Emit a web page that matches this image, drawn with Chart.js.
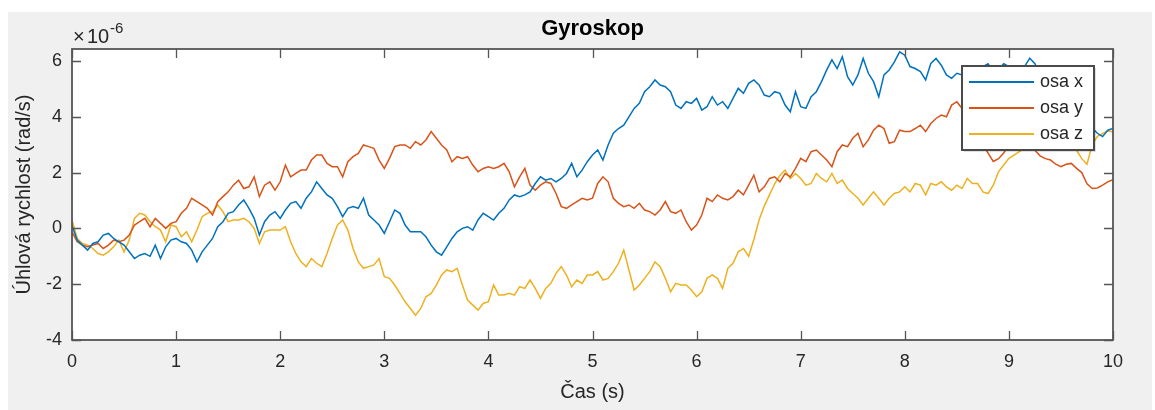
<!DOCTYPE html>
<html>
<head>
<meta charset="utf-8">
<title>Gyroskop</title>
<script src="https://cdn.jsdelivr.net/npm/chart.js@4.4.1/dist/chart.umd.min.js"></script>
<style>
  html, body { margin: 0; padding: 0; background: #fff; }
  #wrap { width: 1155px; height: 410px; }
</style>
</head>
<body>
<div id="wrap"><canvas id="gyroChart" width="1155" height="410"></canvas></div>
<script>
// --- Data (values in units of 1e-6 rad/s) ---
const time = [
  0, 0.05, 0.1, 0.15, 0.2, 0.25, 0.3, 0.35, 0.4, 0.45, 0.5, 0.55, 0.6, 0.65, 0.7, 0.75, 0.8, 0.85, 0.9, 0.95,
  1, 1.05, 1.1, 1.15, 1.2, 1.25, 1.3, 1.35, 1.4, 1.45, 1.5, 1.55, 1.6, 1.65, 1.7, 1.75, 1.8, 1.85, 1.9, 1.95,
  2, 2.05, 2.1, 2.15, 2.2, 2.25, 2.3, 2.35, 2.4, 2.45, 2.5, 2.55, 2.6, 2.65, 2.7, 2.75, 2.8, 2.85, 2.9, 2.95,
  3, 3.05, 3.1, 3.15, 3.2, 3.25, 3.3, 3.35, 3.4, 3.45, 3.5, 3.55, 3.6, 3.65, 3.7, 3.75, 3.8, 3.85, 3.9, 3.95,
  4, 4.05, 4.1, 4.15, 4.2, 4.25, 4.3, 4.35, 4.4, 4.45, 4.5, 4.55, 4.6, 4.65, 4.7, 4.75, 4.8, 4.85, 4.9, 4.95,
  5, 5.05, 5.1, 5.15, 5.2, 5.25, 5.3, 5.35, 5.4, 5.45, 5.5, 5.55, 5.6, 5.65, 5.7, 5.75, 5.8, 5.85, 5.9, 5.95,
  6, 6.05, 6.1, 6.15, 6.2, 6.25, 6.3, 6.35, 6.4, 6.45, 6.5, 6.55, 6.6, 6.65, 6.7, 6.75, 6.8, 6.85, 6.9, 6.95,
  7, 7.05, 7.1, 7.15, 7.2, 7.25, 7.3, 7.35, 7.4, 7.45, 7.5, 7.55, 7.6, 7.65, 7.7, 7.75, 7.8, 7.85, 7.9, 7.95,
  8, 8.05, 8.1, 8.15, 8.2, 8.25, 8.3, 8.35, 8.4, 8.45, 8.5, 8.55, 8.6, 8.65, 8.7, 8.75, 8.8, 8.85, 8.9, 8.95,
  9, 9.05, 9.1, 9.15, 9.2, 9.25, 9.3, 9.35, 9.4, 9.45, 9.5, 9.55, 9.6, 9.65, 9.7, 9.75, 9.8, 9.85, 9.9, 9.95,
  10
];

const osaX = [
  0.1, -0.42, -0.6, -0.78, -0.54, -0.48, -0.24, -0.18, -0.36, -0.48, -0.6, -0.84, -1.08, -0.96, -0.9, -1.0, -0.6, -1.08, -0.66, -0.42,
  -0.36, -0.48, -0.54, -0.78, -1.2, -0.84, -0.6, -0.36, 0.06, 0.24, 0.54, 0.6, 0.84, 1.02, 0.72, 0.36, -0.24, 0.24, 0.48, 0.6,
  0.36, 0.66, 0.9, 0.96, 0.72, 1.08, 1.31, 1.67, 1.43, 1.2, 1.08, 0.78, 0.42, 0.72, 0.78, 0.72, 1.08, 0.48, 0.3, 0.12,
  -0.18, 0.24, 0.66, 0.54, 0.12, -0.12, -0.12, -0.12, -0.3, -0.6, -0.84, -0.96, -0.66, -0.36, -0.12, 0, 0.06, -0.06, 0.3, 0.54,
  0.42, 0.3, 0.54, 0.72, 1.02, 1.2, 1.14, 1.2, 1.31, 1.61, 1.85, 1.73, 1.79, 1.67, 1.79, 1.97, 2.33, 1.85, 2.09, 2.39,
  2.63, 2.81, 2.45, 2.99, 3.41, 3.58, 3.7, 4.0, 4.3, 4.48, 4.9, 5.08, 5.32, 5.14, 5.08, 4.9, 4.42, 4.3, 4.54, 4.48,
  4.66, 4.24, 4.36, 4.72, 4.42, 4.54, 4.3, 4.66, 5.02, 4.84, 5.2, 5.32, 5.14, 4.78, 4.72, 4.9, 4.84, 4.42, 4.18, 4.9,
  4.36, 4.3, 4.72, 4.9, 5.26, 5.68, 6.04, 5.73, 6.15, 5.44, 5.14, 5.5, 6.09, 5.56, 5.26, 4.72, 5.5, 5.68, 5.97, 6.33,
  6.21, 5.8, 5.73, 5.62, 5.32, 5.91, 6.09, 5.85, 5.5, 5.38, 5.56, 5.5, 5.7, 5.5, 5.6, 5.8, 5.9, 5.6, 5.7, 5.9,
  5.8, 5.5, 5.6, 5.8, 6.1, 5.9, 5.5, 5.2, 5.0, 4.8, 4.6, 4.3, 4.2, 3.9, 3.8, 3.7, 3.6, 3.41, 3.29, 3.52,
  3.58
];

const osaY = [
  -0.12, -0.48, -0.6, -0.66, -0.6, -0.54, -0.72, -0.6, -0.42, -0.48, -0.42, -0.24, 0.12, 0.24, 0.36, 0.06, 0.36, 0.18, 0, 0.18,
  0.24, 0.54, 0.72, 1.08, 0.96, 0.84, 0.72, 0.48, 0.96, 1.14, 1.31, 1.55, 1.73, 1.43, 1.49, 1.85, 1.14, 1.55, 1.67, 1.37,
  1.67, 2.27, 1.85, 1.97, 2.09, 2.09, 2.45, 2.63, 2.63, 2.33, 2.21, 2.21, 1.85, 2.39, 2.57, 2.69, 2.99, 2.93, 2.87, 2.45,
  2.15, 2.51, 2.93, 2.99, 2.99, 2.87, 3.11, 2.99, 3.17, 3.47, 3.23, 2.99, 2.81, 2.39, 2.57, 2.51, 2.57, 2.27, 2.03, 2.15,
  2.21, 2.15, 2.21, 2.33, 2.03, 1.49, 1.85, 2.15, 1.55, 1.37, 1.55, 1.67, 1.61, 1.25, 0.78, 0.72, 0.84, 0.96, 1.08, 1.02,
  1.08, 1.61, 1.85, 1.67, 1.08, 0.9, 0.78, 0.84, 0.72, 0.9, 0.66, 0.6, 0.48, 0.66, 0.96, 0.6, 0.54, 0.66, 0.24, -0.06,
  0.12, 0.48, 1.08, 0.96, 1.2, 1.08, 1.02, 1.14, 1.37, 1.2, 1.55, 1.91, 1.31, 1.49, 1.79, 1.85, 1.67, 1.97, 1.85, 2.15,
  2.51, 2.39, 2.75, 2.81, 2.63, 2.45, 2.21, 2.75, 2.99, 2.93, 3.23, 3.41, 2.93, 3.17, 3.52, 3.7, 3.58, 3.05, 3.11, 3.52,
  3.47, 3.47, 3.58, 3.7, 3.47, 3.76, 3.94, 4.06, 4.0, 4.42, 4.54, 4.3, 4.0, 3.8, 3.4, 3.0, 2.7, 2.4, 2.5, 2.7,
  3.0, 3.2, 3.3, 3.1, 2.9, 2.8, 2.6, 2.5, 2.45, 2.3, 2.21, 2.3, 2.33, 2.15, 2.0, 1.6, 1.43, 1.45, 1.55, 1.67,
  1.75
];

const osaZ = [
  0.3, -0.36, -0.54, -0.6, -0.72, -0.9, -0.96, -0.84, -0.66, -0.42, -0.84, -0.42, 0.36, 0.54, 0.48, 0.24, 0.06, -0.06, -0.48, 0.12,
  0.06, -0.3, -0.12, -0.48, -0.06, 0.42, 0.54, 0.6, 0.84, 0.6, 0.24, 0.3, 0.3, 0.36, 0.24, 0, -0.54, -0.12, -0.06, -0.06,
  -0.06, 0.06, -0.48, -0.9, -1.2, -1.37, -1.08, -1.25, -1.37, -0.9, -0.36, 0.12, 0.3, -0.06, -0.72, -1.2, -1.43, -1.37, -1.31, -1.08,
  -1.73, -1.79, -2.03, -2.33, -2.63, -2.87, -3.11, -2.87, -2.45, -2.33, -2.03, -1.67, -1.49, -1.55, -1.43, -2.03, -2.57, -2.75, -2.93, -2.69,
  -2.63, -2.03, -2.39, -2.39, -2.33, -2.39, -2.09, -2.15, -1.85, -2.15, -2.51, -2.15, -1.97, -1.61, -1.37, -1.67, -2.09, -1.85, -1.97, -1.67,
  -1.67, -1.55, -1.85, -1.79, -1.55, -1.25, -0.78, -1.49, -2.21, -2.03, -1.79, -1.55, -1.2, -1.37, -1.79, -2.27, -1.97, -2.03, -2.03, -2.21,
  -2.45, -2.27, -1.79, -1.67, -1.79, -2.15, -1.43, -1.25, -0.84, -0.72, -1.0, -0.4, 0.3, 0.8, 1.2, 1.6, 1.9, 2.09, 1.79, 1.97,
  1.79, 1.55, 1.61, 1.97, 1.79, 1.67, 1.97, 1.61, 1.73, 1.43, 1.25, 1.08, 0.84, 1.08, 1.31, 1.08, 0.84, 1.08, 1.25, 1.31,
  1.49, 1.31, 1.61, 1.55, 1.2, 1.61, 1.55, 1.67, 1.49, 1.37, 1.55, 1.43, 1.79, 1.61, 1.61, 1.31, 1.25, 1.55, 2.03, 2.27,
  2.51, 2.63, 2.75, 2.87, 3.0, 3.1, 3.3, 3.2, 3.0, 3.0, 2.9, 2.9, 2.8, 2.8, 2.5, 2.3, 3.0, 3.3, 3.4, 3.5,
  3.45
];

const seriesNames = ["osa x", "osa y", "osa z"];
const xTicks = [0, 1, 2, 3, 4, 5, 6, 7, 8, 9, 10];
const yTicks = [-4, -2, 0, 2, 4, 6];

const FONT = "'Liberation Sans', Arial, Helvetica, sans-serif";
const TEXT = "#262626";
const AXIS = "#555555";
const colors = ["#0072BD", "#D95319", "#EDB120"];

Chart.defaults.font.family = FONT;
Chart.defaults.color = TEXT;

function toPoints(values) {
  return values.map((v, i) => ({ x: time[i], y: v }));
}

// grey figure background + white axes area
const figureBackground = {
  id: "figureBackground",
  beforeDraw(chart) {
    const { ctx, chartArea } = chart;
    ctx.save();
    ctx.fillStyle = "#f0f0f0";
    ctx.fillRect(8, 12, chart.width - 11, chart.height - 12);
    ctx.fillStyle = "#ffffff";
    ctx.fillRect(chartArea.left, chartArea.top,
      chartArea.right - chartArea.left, chartArea.bottom - chartArea.top);
    ctx.restore();
  }
};

// MATLAB-like box with inward ticks, exponent label and legend
const matlabBox = {
  id: "matlabBox",
  afterDatasetsDraw(chart) {
    const { ctx, chartArea: a, scales } = chart;
    const tl = 9;
    ctx.save();
    ctx.strokeStyle = AXIS;
    ctx.lineWidth = 1.8;
    ctx.strokeRect(a.left, a.top, a.right - a.left, a.bottom - a.top);

    ctx.lineWidth = 1.3;
    ctx.beginPath();
    xTicks.forEach((v) => {
      const px = Math.round(scales.x.getPixelForValue(v)) + 0.5;
      ctx.moveTo(px, a.bottom); ctx.lineTo(px, a.bottom - tl);
      ctx.moveTo(px, a.top); ctx.lineTo(px, a.top + tl);
    });
    yTicks.forEach((v) => {
      const py = Math.round(scales.y.getPixelForValue(v)) + 0.5;
      ctx.moveTo(a.left, py); ctx.lineTo(a.left + tl, py);
      ctx.moveTo(a.right, py); ctx.lineTo(a.right - tl, py);
    });
    ctx.stroke();

    // x10^-6 multiplier
    ctx.fillStyle = TEXT;
    ctx.textBaseline = "alphabetic";
    ctx.textAlign = "left";
    ctx.font = "20px " + FONT;
    ctx.fillText("\u00d7", a.left + 1, a.top - 6);
    ctx.fillText("10", a.left + 15, a.top - 6);
    ctx.font = "15px " + FONT;
    ctx.fillText("-6", a.left + 38, a.top - 16);

    // legend
    const bx = a.right - 151, by = a.top + 17, bw = 132, bh = 84;
    ctx.fillStyle = "rgba(0,0,0,0.12)";
    ctx.fillRect(bx + 2, by + 2, bw, bh);
    ctx.fillStyle = "#ffffff";
    ctx.fillRect(bx, by, bw, bh);
    ctx.strokeStyle = "#4a4a4a";
    ctx.lineWidth = 2;
    ctx.strokeRect(bx, by, bw, bh);
    ctx.font = "18px " + FONT;
    ctx.textBaseline = "middle";
    chart.data.datasets.forEach((ds, i) => {
      const ly = by + 16 + i * 26;
      ctx.strokeStyle = ds.borderColor;
      ctx.lineWidth = 2;
      ctx.beginPath();
      ctx.moveTo(bx + 7, ly);
      ctx.lineTo(bx + 72, ly);
      ctx.stroke();
      ctx.fillStyle = TEXT;
      ctx.fillText(ds.label, bx + 78, ly);
    });
    ctx.restore();
  }
};

const ctx = document.getElementById("gyroChart");

new Chart(ctx, {
  type: "line",
  data: {
    datasets: [osaX, osaY, osaZ].map((vals, i) => ({
      label: seriesNames[i],
      data: toPoints(vals),
      borderColor: colors[i],
      backgroundColor: colors[i],
      borderWidth: 1.5,
      pointRadius: 0,
      tension: 0,
      fill: false
    }))
  },
  options: {
    responsive: false,
    animation: false,
    events: [],
    layout: { padding: { top: 12, left: 0, right: 42, bottom: 0 } },
    plugins: {
      legend: { display: false },
      tooltip: { enabled: false },
      title: {
        display: true,
        fullSize: false,
        text: "Gyroskop",
        color: "#000",
        font: { size: 22, weight: "bold", family: FONT },
        padding: { top: 4, bottom: 6.6 }
      }
    },
    scales: {
      x: {
        type: "linear",
        min: 0,
        max: 10,
        grid: { display: false, drawTicks: false },
        border: { display: false },
        afterBuildTicks: (scale) => { scale.ticks = xTicks.map((v) => ({ value: v })); },
        afterFit: (scale) => { scale.height = 70; },
        ticks: { color: TEXT, font: { size: 18 }, padding: 11, maxRotation: 0 },
        title: {
          display: true,
          text: "Čas (s)",
          color: TEXT,
          font: { size: 20 },
          padding: { top: 6, bottom: 6 }
        }
      },
      y: {
        min: -4,
        max: 6.43,
        grid: { display: false, drawTicks: false },
        border: { display: false },
        afterBuildTicks: (scale) => { scale.ticks = yTicks.map((v) => ({ value: v })); },
        afterFit: (scale) => { scale.width = 72; },
        ticks: { color: TEXT, font: { size: 18 }, padding: 10 },
        title: {
          display: true,
          text: "Úhlová rychlost (rad/s)",
          color: TEXT,
          font: { size: 20 },
          padding: { top: 12, bottom: 0 }
        }
      }
    }
  },
  plugins: [figureBackground, matlabBox]
});
</script>
</body>
</html>
